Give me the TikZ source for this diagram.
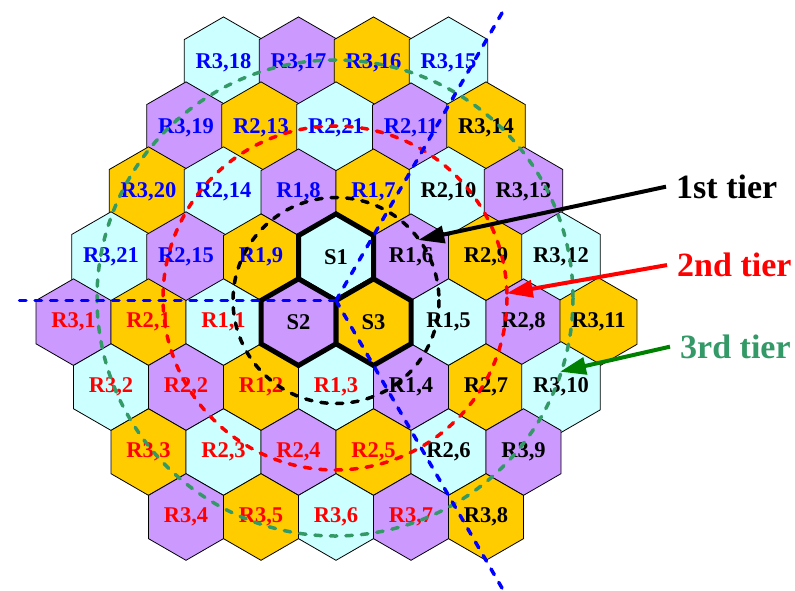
\documentclass[tikz,border=0pt]{standalone}
\usepackage{fontspec}
\setmainfont{Liberation Serif}
\usetikzlibrary{shapes.geometric,arrows.meta}
\definecolor{cellcyan}{HTML}{CCFFFF}
\definecolor{cellviolet}{HTML}{CC99FF}
\definecolor{cellgold}{HTML}{FFCC00}
\definecolor{tiergreen}{HTML}{339966}
\definecolor{arrowgreen}{HTML}{008000}
% hex cell: name, half-column, row, looks, label
\newcommand\cell[5]{\node[hexcell,#4] (#1) at ({73.5+37.5*#2},{62.35+64.95*(#3-1)}) {#5};}

\begin{document}
\begin{tikzpicture}[x=1pt,y=-1pt]
\tikzset{hexcell/.style={draw,regular polygon,regular polygon sides=6,shape border rotate=30,
    minimum size=86.6pt,inner sep=0pt,line width=0.8pt,font=\fontsize{22.5}{24}\selectfont\bfseries}}
\tikzset{ring/.style={line width=3.5pt,dash pattern=on 6.5pt off 9pt,line cap=round}}
\tikzset{splitline/.style={ring,draw=blue}}
\tikzset{pointer/.style={line width=4pt,-{Triangle[length=26pt,width=17pt]}}}
\tikzset{tierlabel/.style={anchor=base west,inner xsep=10pt,inner ysep=0pt,font=\fontsize{34}{36}\selectfont\bfseries}}
\useasboundingbox (0,0) rectangle (795,591);
% row 1
\cell{r3-18}{4}{1}{fill=cellcyan,text=blue}{R3,18}
\cell{r3-17}{6}{1}{fill=cellviolet,text=blue}{R3,17}
\cell{r3-16}{8}{1}{fill=cellgold,text=blue}{R3,16}
\cell{r3-15}{10}{1}{fill=cellcyan,text=blue}{R3,15}
% row 2
\cell{r3-19}{3}{2}{fill=cellviolet,text=blue}{R3,19}
\cell{r2-13}{5}{2}{fill=cellgold,text=blue}{R2,13}
\cell{r2-21}{7}{2}{fill=cellcyan,text=blue}{R2,21}
\cell{r2-11}{9}{2}{fill=cellviolet,text=blue}{R2,11}
\cell{r3-14}{11}{2}{fill=cellgold,text=black}{R3,14}
% row 3
\cell{r3-20}{2}{3}{fill=cellgold,text=blue}{R3,20}
\cell{r2-14}{4}{3}{fill=cellcyan,text=blue}{R2,14}
\cell{r1-8}{6}{3}{fill=cellviolet,text=blue}{R1,8}
\cell{r1-7}{8}{3}{fill=cellgold,text=blue}{R1,7}
\cell{r2-10}{10}{3}{fill=cellcyan,text=black}{R2,10}
\cell{r3-13}{12}{3}{fill=cellviolet,text=black}{R3,13}
% row 4
\cell{r3-21}{1}{4}{fill=cellcyan,text=blue}{R3,21}
\cell{r2-15}{3}{4}{fill=cellviolet,text=blue}{R2,15}
\cell{r1-9}{5}{4}{fill=cellgold,text=blue}{R1,9}
\cell{r1-6}{9}{4}{fill=cellviolet,text=black}{R1,6}
\cell{r2-9}{11}{4}{fill=cellgold,text=black}{R2,9}
\cell{r3-12}{13}{4}{fill=cellcyan,text=black}{R3,12}
% row 5
\cell{r3-1}{0}{5}{fill=cellviolet,text=red}{R3,1}
\cell{r2-1}{2}{5}{fill=cellgold,text=red}{R2,1}
\cell{r1-1}{4}{5}{fill=cellcyan,text=red}{R1,1}
\cell{r1-5}{10}{5}{fill=cellcyan,text=black}{R1,5}
\cell{r2-8}{12}{5}{fill=cellviolet,text=black}{R2,8}
\cell{r3-11}{14}{5}{fill=cellgold,text=black}{R3,11}
% row 6
\cell{r3-2}{1}{6}{fill=cellcyan,text=red}{R3,2}
\cell{r2-2}{3}{6}{fill=cellviolet,text=red}{R2,2}
\cell{r1-2}{5}{6}{fill=cellgold,text=red}{R1,2}
\cell{r1-3}{7}{6}{fill=cellcyan,text=red}{R1,3}
\cell{r1-4}{9}{6}{fill=cellviolet,text=black}{R1,4}
\cell{r2-7}{11}{6}{fill=cellgold,text=black}{R2,7}
\cell{r3-10}{13}{6}{fill=cellcyan,text=black}{R3,10}
% row 7
\cell{r3-3}{2}{7}{fill=cellgold,text=red}{R3,3}
\cell{r2-3}{4}{7}{fill=cellcyan,text=red}{R2,3}
\cell{r2-4}{6}{7}{fill=cellviolet,text=red}{R2,4}
\cell{r2-5}{8}{7}{fill=cellgold,text=red}{R2,5}
\cell{r2-6}{10}{7}{fill=cellcyan,text=black}{R2,6}
\cell{r3-9}{12}{7}{fill=cellviolet,text=black}{R3,9}
% row 8
\cell{r3-4}{3}{8}{fill=cellviolet,text=red}{R3,4}
\cell{r3-5}{5}{8}{fill=cellgold,text=red}{R3,5}
\cell{r3-6}{7}{8}{fill=cellcyan,text=red}{R3,6}
\cell{r3-7}{9}{8}{fill=cellviolet,text=red}{R3,7}
\cell{r3-8}{11}{8}{fill=cellgold,text=black}{R3,8}
% serving cells, drawn last so the thick border stays whole
\cell{s1}{7}{4}{fill=cellcyan,text=black,line width=5pt}{S1}
\cell{s2}{6}{5}{fill=cellviolet,text=black,line width=5pt}{S2}
\cell{s3}{8}{5}{fill=cellgold,text=black,line width=5pt}{S3}
\coordinate (hub) at (336,300.5);
\coordinate (ctr) at (335,298);
% tiers
\draw[ring] (hub) circle[radius=103];
\draw[ring,draw=red] (ctr) circle[radius=172];
\draw[ring,draw=tiergreen] (ctr) circle[radius=238];
% sector borders
\draw[splitline] (hub) -- ++(180:324);
\draw[splitline] (hub) -- ++(-60:336);
\draw[splitline] (hub) -- ++(60:336);
% legend
\node[tierlabel,text=black] (t1) at (666,198.3) {1st tier};
\node[tierlabel,text=red] (t2) at (667,276.7) {2nd tier};
\node[tierlabel,text=tiergreen] (t3) at (670,358.3) {3rd tier};
\coordinate (tip1) at (418.3,240);
\coordinate (tip2) at (506.7,293.3);
\coordinate (tip3) at (560,371.7);
\draw[pointer] (t1.west) -- (tip1);
\draw[pointer,red] (t2.west) -- (tip2);
\draw[pointer,arrowgreen] (t3.west) -- (tip3);
\end{tikzpicture}
\end{document}
